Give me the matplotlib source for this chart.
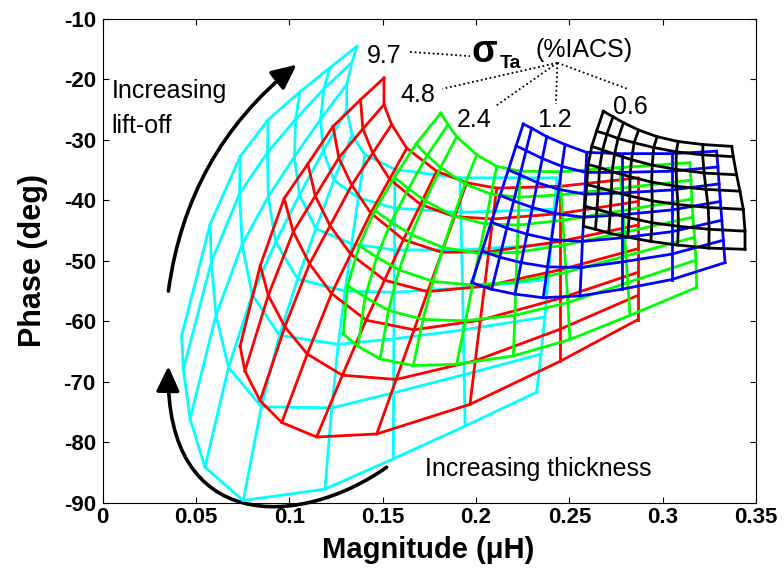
import numpy as np
import matplotlib
matplotlib.use('Agg')
import matplotlib.pyplot as plt
from matplotlib.patches import FancyArrowPatch
from matplotlib.path import Path

plt.rcParams['font.family'] = ['Liberation Sans', 'DejaVu Sans']
plt.rcParams['axes.unicode_minus'] = False

# each grid: rows = lift-off curves, columns = thickness curves
# sigma_Ta = 9.7 %IACS
cyan_x = [
    [0.1361, 0.1336, 0.1307, 0.1307, 0.1336, 0.1405, 0.1566, 0.1914, 0.2434],
    [0.1218, 0.1185, 0.1167, 0.1181, 0.1239, 0.1369, 0.1564, 0.1918, 0.2418],
    [0.1057, 0.1034, 0.1027, 0.1054, 0.1142, 0.1334, 0.1563, 0.1923, 0.2402],
    [0.0886, 0.0883, 0.0887, 0.0927, 0.1044, 0.1298, 0.1561, 0.1928, 0.2385],
    [0.0736, 0.0733, 0.0747, 0.0801, 0.0947, 0.1262, 0.1560, 0.1932, 0.2369],
    [0.0575, 0.0582, 0.0607, 0.0674, 0.0850, 0.1227, 0.1558, 0.1937, 0.2348],
    [0.0423, 0.0432, 0.0468, 0.0548, 0.0753, 0.1191, 0.1557, 0.1941, 0.2325],
]
cyan_y = [
    [-14.6, -17.2, -20.9, -25.1, -29.2, -32.5, -34.9, -36.3, -36.3],
    [-18.1, -21.6, -26.6, -31.9, -36.7, -39.6, -41.3, -42.0, -41.5],
    [-22.1, -26.6, -32.8, -39.1, -44.7, -47.2, -48.2, -48.2, -47.3],
    [-26.7, -32.1, -39.4, -46.9, -53.0, -55.0, -55.2, -54.5, -53.1],
    [-32.8, -38.9, -47.3, -55.6, -62.3, -63.8, -62.9, -61.4, -59.3],
    [-44.0, -50.2, -59.0, -67.6, -74.1, -74.3, -71.8, -68.8, -65.4],
    [-62.4, -67.9, -76.1, -84.1, -89.6, -87.7, -82.7, -77.3, -71.7],
]

# sigma_Ta = 4.8 %IACS
red_x = [
    [0.1507, 0.1507, 0.1548, 0.1629, 0.1789, 0.1950, 0.2111, 0.2450, 0.2868],
    [0.1381, 0.1394, 0.1447, 0.1537, 0.1703, 0.1885, 0.2090, 0.2450, 0.2868],
    [0.1234, 0.1265, 0.1334, 0.1436, 0.1611, 0.1817, 0.2068, 0.2450, 0.2868],
    [0.1099, 0.1139, 0.1218, 0.1329, 0.1510, 0.1741, 0.2046, 0.2450, 0.2868],
    [0.0972, 0.1021, 0.1108, 0.1226, 0.1411, 0.1668, 0.2023, 0.2450, 0.2868],
    [0.0844, 0.0887, 0.0976, 0.1096, 0.1284, 0.1572, 0.1996, 0.2450, 0.2868],
    [0.0736, 0.0762, 0.0843, 0.0959, 0.1146, 0.1468, 0.1968, 0.2450, 0.2868],
]
red_y = [
    [-19.8, -24.2, -27.5, -31.4, -35.2, -37.1, -38.0, -37.7, -36.3],
    [-23.4, -28.2, -32.2, -36.5, -40.7, -42.7, -43.1, -42.2, -40.2],
    [-27.8, -33.0, -37.5, -42.1, -46.5, -48.6, -48.5, -46.8, -44.1],
    [-34.0, -39.3, -44.2, -48.9, -53.2, -55.1, -54.2, -51.5, -48.0],
    [-39.7, -45.2, -50.5, -55.4, -59.8, -61.4, -59.8, -56.2, -51.9],
    [-50.8, -55.7, -60.9, -65.4, -68.9, -69.6, -66.5, -61.3, -55.7],
    [-64.1, -68.2, -73.1, -76.7, -79.1, -78.6, -73.7, -66.6, -59.7],
]

# sigma_Ta = 2.4 %IACS
green_x = [
    [0.1811, 0.1850, 0.1896, 0.2004, 0.2111, 0.2236, 0.2450, 0.2771, 0.3146],
    [0.1679, 0.1738, 0.1810, 0.1941, 0.2081, 0.2231, 0.2457, 0.2779, 0.3151],
    [0.1563, 0.1638, 0.1729, 0.1881, 0.2049, 0.2225, 0.2465, 0.2787, 0.3156],
    [0.1458, 0.1545, 0.1654, 0.1824, 0.2016, 0.2220, 0.2473, 0.2795, 0.3162],
    [0.1375, 0.1468, 0.1588, 0.1769, 0.1982, 0.2214, 0.2482, 0.2803, 0.3171],
    [0.1312, 0.1406, 0.1531, 0.1716, 0.1944, 0.2208, 0.2492, 0.2813, 0.3178],
    [0.1289, 0.1368, 0.1486, 0.1664, 0.1896, 0.2200, 0.2503, 0.2825, 0.3182],
]
green_y = [
    [-25.6, -27.5, -29.5, -32.5, -34.4, -35.2, -35.3, -34.6, -33.8],
    [-30.7, -32.6, -34.6, -37.3, -39.0, -39.5, -39.1, -38.0, -36.7],
    [-36.2, -38.1, -40.1, -42.6, -43.9, -44.1, -43.3, -41.7, -39.8],
    [-41.7, -43.6, -45.7, -47.8, -48.8, -48.6, -47.4, -45.3, -42.8],
    [-47.5, -49.4, -51.5, -53.4, -54.0, -53.5, -51.9, -49.2, -46.1],
    [-54.1, -56.0, -58.2, -59.7, -59.9, -59.0, -56.9, -53.6, -49.9],
    [-62.1, -64.1, -66.2, -67.3, -67.1, -65.7, -63.0, -59.0, -54.4],
]

# sigma_Ta = 1.2 %IACS
blue_x = [
    [0.2253, 0.2298, 0.2379, 0.2477, 0.2593, 0.2780, 0.3048, 0.3289],
    [0.2215, 0.2268, 0.2355, 0.2460, 0.2588, 0.2780, 0.3048, 0.3296],
    [0.2173, 0.2236, 0.2329, 0.2443, 0.2583, 0.2780, 0.3048, 0.3302],
    [0.2129, 0.2202, 0.2302, 0.2424, 0.2577, 0.2780, 0.3048, 0.3309],
    [0.2082, 0.2165, 0.2273, 0.2404, 0.2570, 0.2780, 0.3048, 0.3317],
    [0.2032, 0.2127, 0.2242, 0.2383, 0.2564, 0.2780, 0.3048, 0.3325],
    [0.1977, 0.2084, 0.2209, 0.2360, 0.2557, 0.2780, 0.3048, 0.3334],
]
blue_y = [
    [-27.4, -28.1, -29.5, -30.8, -32.1, -32.3, -32.3, -31.9],
    [-31.0, -31.8, -33.1, -34.4, -35.4, -35.4, -35.2, -34.5],
    [-35.0, -35.8, -37.1, -38.2, -39.0, -38.8, -38.3, -37.3],
    [-39.2, -40.1, -41.2, -42.2, -42.8, -42.4, -41.6, -40.2],
    [-43.6, -44.6, -45.6, -46.5, -46.8, -46.2, -45.2, -43.3],
    [-48.4, -49.4, -50.3, -51.0, -51.1, -50.2, -48.9, -46.6],
    [-53.6, -54.7, -55.5, -56.1, -55.8, -54.7, -53.1, -50.3],
]

# sigma_Ta = 0.6 %IACS
black_x = [
    [0.2682, 0.2734, 0.2790, 0.2871, 0.2970, 0.3083, 0.3216, 0.3370],
    [0.2646, 0.2701, 0.2761, 0.2847, 0.2952, 0.3073, 0.3214, 0.3378],
    [0.2620, 0.2678, 0.2742, 0.2833, 0.2944, 0.3072, 0.3222, 0.3396],
    [0.2601, 0.2662, 0.2729, 0.2825, 0.2941, 0.3075, 0.3232, 0.3414],
    [0.2593, 0.2656, 0.2725, 0.2824, 0.2944, 0.3082, 0.3244, 0.3432],
    [0.2584, 0.2648, 0.2719, 0.2820, 0.2942, 0.3084, 0.3249, 0.3441],
    [0.2575, 0.2640, 0.2711, 0.2813, 0.2937, 0.3080, 0.3247, 0.3441],
]
black_y = [
    [-25.3, -26.2, -27.2, -28.4, -29.5, -30.3, -30.8, -31.1],
    [-28.6, -29.1, -29.8, -30.5, -31.3, -32.0, -32.5, -32.8],
    [-31.1, -31.7, -32.4, -33.3, -34.2, -34.9, -35.5, -35.8],
    [-34.1, -34.6, -35.3, -36.1, -37.0, -37.7, -38.2, -38.5],
    [-37.4, -37.9, -38.5, -39.3, -40.1, -40.7, -41.2, -41.5],
    [-41.0, -41.5, -42.1, -42.9, -43.7, -44.3, -44.8, -45.1],
    [-44.3, -44.8, -45.4, -46.1, -46.8, -47.4, -47.9, -48.1],
]

grids = [(cyan_x, cyan_y, '#00ffff'),
         (red_x, red_y, '#ff0000'),
         (green_x, green_y, '#00ff00'),
         (blue_x, blue_y, '#0000ff'),
         (black_x, black_y, '#000000')]

x_ticks = [0, 0.05, 0.1, 0.15, 0.2, 0.25, 0.3, 0.35]
x_tick_labels = ['0', '0.05', '0.1', '0.15', '0.2', '0.25', '0.3', '0.35']
y_ticks = [-90, -80, -70, -60, -50, -40, -30, -20, -10]

fig = plt.figure(figsize=(7.84, 5.69), dpi=100)
ax = fig.add_axes([0.131, 0.116, 0.8333, 0.8513])

for gx, gy, col in grids:
    gx = np.array(gx)
    gy = np.array(gy)
    for i in range(gx.shape[0]):
        ax.plot(gx[i], gy[i], color=col, lw=2)
    for j in range(gx.shape[1]):
        ax.plot(gx[:, j], gy[:, j], color=col, lw=2)

ax.set_xlim(0, 0.35)
ax.set_ylim(-90, -10)
ax.set_xticks(x_ticks)
ax.set_xticklabels(x_tick_labels)
ax.set_yticks(y_ticks)
ax.tick_params(direction='in', top=True, right=True, length=4, width=0.8)
ax.tick_params(axis='x', pad=3, labelsize=16)
ax.tick_params(axis='y', pad=5, labelsize=16)
for lab in ax.get_xticklabels() + ax.get_yticklabels():
    lab.set_fontweight('bold')

ax.set_xlabel('Magnitude (\u03bcH)', fontsize=21, fontweight='bold')
ax.xaxis.set_label_coords(0.498, -0.098)
ax.xaxis.label.set_verticalalignment('center')
ax.set_ylabel('Phase (deg)', fontsize=22, fontweight='bold')
ax.yaxis.set_label_coords(-0.107, 0.5)
ax.yaxis.label.set_verticalalignment('center')

# annotations
ax.text(0.0048, -23.1, 'Increasing', fontsize=18)
ax.text(0.0048, -28.9, 'lift-off', fontsize=18)
ax.text(0.1726, -85.5, 'Increasing thickness', fontsize=18)

ax.text(0.1416, -17.4, '9.7', fontsize=18)
ax.text(0.1593, -23.7, '4.8', fontsize=18)
ax.text(0.1898, -27.9, '2.4', fontsize=18)
ax.text(0.2326, -27.9, '1.2', fontsize=18)
ax.text(0.2734, -25.7, '0.6', fontsize=18)
ax.text(0.1978, -17.2, '\u03c3', fontsize=27, fontweight='bold')
ax.text(0.2128, -18.2, 'Ta', fontsize=14, fontweight='bold')
ax.text(0.2316, -15.2, '(%IACS)', fontsize=18, va='center')

dot = dict(color='k', lw=1.3, ls=(0, (1, 1.5)))
ax.plot([0.1647, 0.1968], [-15.5, -16.2], **dot)
hub = (0.2436, -17.3)
for ex, ey in [(0.1820, -21.6), (0.2102, -24.5), (0.2428, -24.1), (0.2811, -21.6)]:
    ax.plot([hub[0], ex], [hub[1], ey], **dot)

# curved arrows
a1 = FancyArrowPatch((0.0352, -55.0), (0.1039, -17.6),
                     connectionstyle='arc3,rad=-0.2',
                     arrowstyle='-|>,head_length=0.75,head_width=0.35',
                     mutation_scale=20, lw=2.6, color='k',
                     shrinkA=0, shrinkB=0)
ax.add_patch(a1)

arc_path = Path([(0.1521, -84.1), (0.1057, -94.2), (0.0334, -95.1), (0.0352, -67.4)],
                [Path.MOVETO, Path.CURVE4, Path.CURVE4, Path.CURVE4])
a2 = FancyArrowPatch(path=arc_path,
                     arrowstyle='-|>,head_length=0.75,head_width=0.35',
                     mutation_scale=20, lw=2.6, color='k',
                     transform=ax.transData, clip_on=False)
ax.add_patch(a2)

fig.savefig('out.png', dpi=100)
